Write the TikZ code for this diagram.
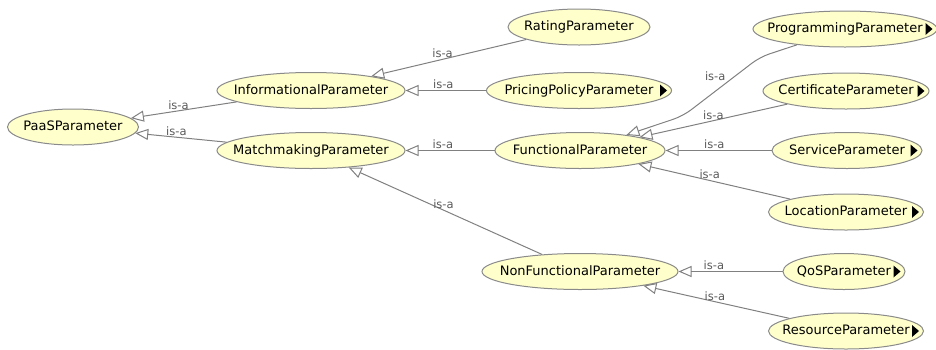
\documentclass[tikz,border=0pt]{standalone}
\usepackage{fontspec}
\newfontfamily\owlfont{DejaVu Sans}
\usetikzlibrary{shapes.geometric,arrows.meta}
\definecolor{clsfill}{HTML}{FFFFCC}
\definecolor{clsline}{HTML}{8A8A8A}
\definecolor{isaline}{HTML}{808080}
\definecolor{isatext}{HTML}{5A5A5A}
\begin{document}
\begin{tikzpicture}[x=1pt,y=-1pt,
	cls/.style={ellipse, draw=clsline, fill=clsfill, line width=1pt, inner sep=0pt,
		minimum height=36pt, minimum width=#1, text height=9.5pt, text depth=2.5pt,
		font=\owlfont\fontsize{13}{15}\selectfont},
	isa/.style={draw=isaline, line width=1pt, -{Triangle[open,length=13pt,width=11pt]}},
	isalabel/.style={font=\owlfont\fontsize{11.5}{13}\selectfont, text=isatext, inner sep=1pt, above}]
			\useasboundingbox (0,0) rectangle (936,349);
			
			\node[cls=131pt] (paas) at (73,127) {\makebox[0pt]{PaaSParameter}};
			\node[cls=188pt] (informational) at (311,90.5) {\makebox[0pt]{InformationalParameter}};
			\node[cls=188pt] (matchmaking) at (311,150.5) {\makebox[0pt]{MatchmakingParameter}};
			\node[cls=142pt] (rating) at (579,27) {\makebox[0pt]{RatingParameter}};
			\node[cls=185pt] (pricing) at (579,90.5) {\makebox[0pt]{PricingPolicyParameter}};
			\node[cls=170pt] (functional) at (580,150.5) {\makebox[0pt]{FunctionalParameter}};
			\node[cls=196pt] (nonfunctional) at (580,271.5) {\makebox[0pt]{NonFunctionalParameter}};
			\node[cls=184pt] (programming) at (845,29) {\makebox[0pt]{ProgrammingParameter}};
			\node[cls=166pt] (certificate) at (846,91) {\makebox[0pt]{CertificateParameter}};
			\node[cls=150pt] (service) at (847,150.5) {\makebox[0pt]{ServiceParameter}};
			\node[cls=155pt] (location) at (846,212) {\makebox[0pt]{LocationParameter}};
			\node[cls=122pt] (qos) at (844,271.5) {\makebox[0pt]{QoSParameter}};
			\node[cls=155pt] (resource) at (846,331) {\makebox[0pt]{ResourceParameter}};
			
			\draw[isa] (informational) -- node[isalabel,pos=.55]{is-a} (paas);
			\draw[isa] (matchmaking) -- node[isalabel,pos=.55]{is-a} (paas);
			\draw[isa] (rating) -- node[isalabel,pos=.54]{is-a} (informational);
			\draw[isa] (pricing) -- node[isalabel,pos=.53]{is-a} (informational);
			\draw[isa] (functional) -- node[isalabel,pos=.58]{is-a} (matchmaking);
			\draw[isa] (nonfunctional) -- node[isalabel,pos=.51]{is-a} (matchmaking);
			\draw[isa, rounded corners=10pt] (programming) -- (760,57)
			-- node[isalabel, anchor=south east, pos=.43]{is-a} (683,116) -- (functional);
			\draw[isa] (certificate) -- node[isalabel,pos=.5]{is-a} (functional);
			\draw[isa] (service) -- node[isalabel,pos=.54]{is-a} (functional);
			\draw[isa] (location) -- node[isalabel,pos=.53]{is-a} (functional);
			\draw[isa] (qos) -- node[isalabel,pos=.66]{is-a} (nonfunctional);
			\draw[isa] (resource) -- node[isalabel,pos=.51]{is-a} (nonfunctional);
			
			\fill (pricing.east) ++(-12,-6) -- ++(7,6) -- ++(-7,6) -- cycle;
			\fill (programming.east) ++(-12,-6) -- ++(7,6) -- ++(-7,6) -- cycle;
			\fill (certificate.east) ++(-12,-6) -- ++(7,6) -- ++(-7,6) -- cycle;
			\fill (service.east) ++(-12,-6) -- ++(7,6) -- ++(-7,6) -- cycle;
			\fill (location.east) ++(-12,-6) -- ++(7,6) -- ++(-7,6) -- cycle;
			\fill (qos.east) ++(-12,-6) -- ++(7,6) -- ++(-7,6) -- cycle;
			\fill (resource.east) ++(-12,-6) -- ++(7,6) -- ++(-7,6) -- cycle;
			\end{tikzpicture}
\end{document}
